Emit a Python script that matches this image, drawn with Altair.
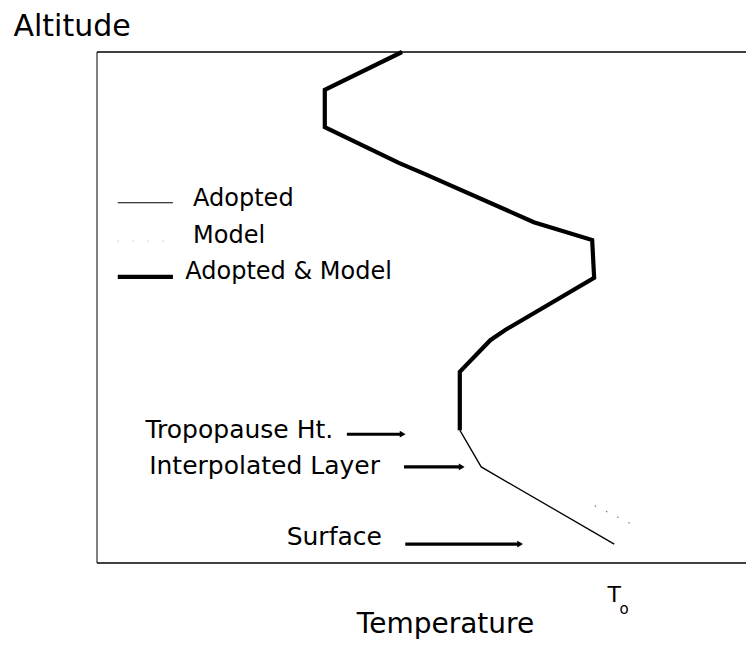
import altair as alt
import pandas as pd

# Adopted & Model (thick) profile: temperature (arbitrary units), altitude (arbitrary units)
am_temp = [47.0, 35.1, 35.1, 46.5, 50.2, 67.3, 76.3, 76.6, 62.9, 60.6, 55.9, 55.9]
am_alt = [100.0, 92.6, 85.3, 78.3, 76.3, 66.7, 63.2, 55.8, 45.6, 43.6, 37.4, 26.0]

# Adopted only (thin): tropopause -> interpolated layer -> surface
ad_temp = [55.9, 59.2, 79.7]
ad_alt = [26.0, 18.8, 3.7]

# Model only (faint dotted)
mo_temp = [76.7, 82.1]
mo_alt = [11.2, 7.8]

# Legend entries
leg_labels = ["Adopted", "Model", "Adopted & Model"]
leg_x0 = [3.2, 3.2, 3.2]
leg_x1 = [11.7, 11.7, 11.7]
leg_y = [70.5, 63.0, 56.0]
leg_text_x = [14.8, 14.8, 13.6]
leg_text_y = [69.9, 62.6, 55.6]

# Annotation labels with arrows
ann_labels = ["Tropopause Ht.", "Interpolated Layer", "Surface"]
ann_text_x = [36.4, 43.6, 43.9]
ann_text_y = [24.5, 17.4, 3.5]
arrow_x0 = [38.5, 47.3, 47.5]
arrow_x1 = [47.1, 56.2, 65.2]
arrow_y = [25.2, 18.8, 3.7]

# Frame edges (top and bottom of the altitude range, left of the temperature range)
frame_h = [100.0, 0.0]
frame_v = [0.0]

FONT = "DejaVu Sans"

am = pd.DataFrame({"t": am_temp, "z": am_alt, "i": range(len(am_temp))})
ad = pd.DataFrame({"t": ad_temp, "z": ad_alt, "i": range(len(ad_temp))})
mo = pd.DataFrame({"t": mo_temp, "z": mo_alt, "i": range(len(mo_temp))})
leg = pd.DataFrame({"label": leg_labels, "x0": leg_x0, "x1": leg_x1, "y": leg_y,
                    "tx": leg_text_x, "ty": leg_text_y})
ann = pd.DataFrame({"label": ann_labels, "tx": ann_text_x, "ty": ann_text_y,
                    "ax0": arrow_x0, "ax1": arrow_x1, "ay": arrow_y})
to_df = pd.DataFrame({"t": [79.7], "z": [-7.6], "sub_t": [81.2], "sub_z": [-9.9]})

xs = alt.Scale(domain=[0, 100], nice=False, zero=False)
ys = alt.Scale(domain=[0, 100], nice=False, zero=False)

X = lambda f: alt.X(f, type="quantitative", scale=xs,
                    axis=alt.Axis(title="Temperature", ticks=False, labels=False, grid=False,
                                  domain=False,
                                  titleFont=FONT, titleFontSize=28, titleFontWeight="normal",
                                  titleColor="black", titleAlign="center", titleBaseline="alphabetic",
                                  titleX=348, titleY=69))
Y = lambda f: alt.Y(f, type="quantitative", scale=ys,
                    axis=alt.Axis(title="Altitude", ticks=False, labels=False, grid=False,
                                  domain=False,
                                  titleFont=FONT, titleFontSize=30, titleFontWeight="normal",
                                  titleColor="black", titleAngle=0, titleAlign="left",
                                  titleBaseline="alphabetic", titleX=-84, titleY=-17))

frame_top_bottom = alt.Chart(pd.DataFrame({"z": frame_h})).mark_rule(
    color="black", strokeWidth=1.6).encode(y=Y("z"))
frame_left = alt.Chart(pd.DataFrame({"t": frame_v})).mark_rule(
    color="black", strokeWidth=1).encode(x=X("t"))

thick = alt.Chart(am).mark_line(color="black", strokeWidth=4.2, strokeJoin="miter").encode(
    x=X("t"), y=Y("z"), order="i:Q")
thin = alt.Chart(ad).mark_line(color="black", strokeWidth=1.3).encode(
    x=X("t"), y=Y("z"), order="i:Q")
model = alt.Chart(mo).mark_line(color="#777777", strokeWidth=1.2, strokeDash=[1.5, 11]).encode(
    x=X("t"), y=Y("z"), order="i:Q")

leg_thin = alt.Chart(leg[leg["label"] == "Adopted"]).mark_rule(color="black", strokeWidth=1.2).encode(
    x=X("x0"), x2="x1", y=Y("y"))
leg_thick = alt.Chart(leg[leg["label"] == "Adopted & Model"]).mark_rule(color="black", strokeWidth=4.2).encode(
    x=X("x0"), x2="x1", y=Y("y"))
leg_model = alt.Chart(leg[leg["label"] == "Model"]).mark_rule(color="#999999", strokeWidth=0.8,
                                                               strokeDash=[1, 14]).encode(
    x=X("x0"), x2="x1", y=Y("y"))
leg_text = alt.Chart(leg).mark_text(align="left", baseline="alphabetic", font=FONT, fontSize=24,
                                    color="black").encode(
    x=X("tx"), y=Y("ty"), text="label:N")

ann_text = alt.Chart(ann).mark_text(align="right", baseline="alphabetic", font=FONT, fontSize=25,
                                    color="black").encode(
    x=X("tx"), y=Y("ty"), text="label:N")
ann_shaft = alt.Chart(ann).mark_rule(color="black", strokeWidth=3.2).encode(
    x=X("ax0"), x2="ax1", y=Y("ay"))
ann_head = alt.Chart(ann).mark_point(shape="triangle-right", filled=True, color="black",
                                     opacity=1, size=45).encode(
    x=X("ax1"), y=Y("ay"))

to_T = alt.Chart(to_df).mark_text(align="center", baseline="alphabetic", font=FONT, fontSize=22,
                                  color="black").encode(
    x=X("t"), y=Y("z"), text=alt.value("T"))
to_o = alt.Chart(to_df).mark_text(align="center", baseline="alphabetic", font=FONT, fontSize=15,
                                  color="black").encode(
    x=X("sub_t"), y=Y("sub_z"), text=alt.value("o"))

chart = alt.layer(
    frame_top_bottom, frame_left, model, thin, thick, leg_thin, leg_model, leg_thick, leg_text,
    ann_text, ann_shaft, ann_head, to_T, to_o
).properties(
    width=649, height=511,
    autosize=alt.AutoSizeParams(type="none"),
    padding={"left": 89, "top": 44, "right": 0, "bottom": 77},
    background="white",
).configure_view(strokeOpacity=0)

chart.save("out.html", embed_options={"renderer": "svg", "actions": False})
